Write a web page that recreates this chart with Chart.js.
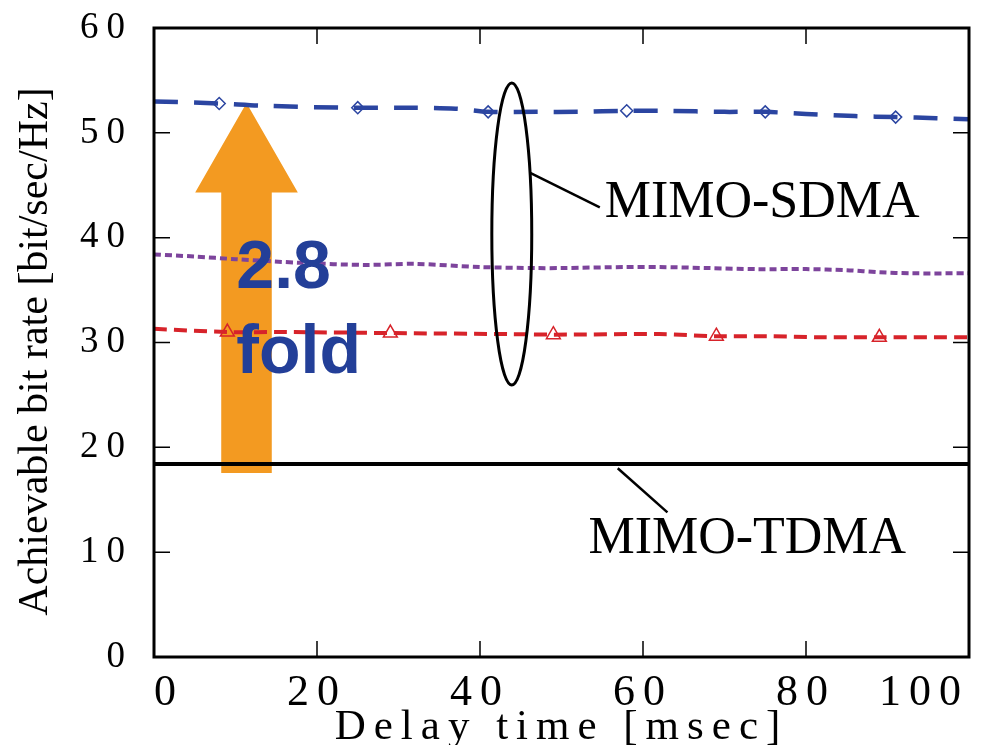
<!DOCTYPE html>
<html lang="en">
<head>
  <meta charset="UTF-8">
  <title>Achievable bit rate vs delay time</title>
  <script src="https://cdn.jsdelivr.net/npm/chart.js"></script>
  <style>
    body { margin: 0; background: #fff; }
  </style>
</head>
<body>
<canvas id="rateChart" width="983" height="745"></canvas>

<script>
  // values (x = delay time [msec], y = bit/sec/Hz)
  const blueX = [0, 8, 13, 23, 30, 37, 41, 47, 52, 58, 63, 70, 75, 80, 86, 91, 96, 100];
  const blueY = [53.0, 52.8, 52.6, 52.4, 52.4, 52.3, 52.0, 52.0, 52.0, 52.1, 52.1, 52.0, 52.0, 51.8, 51.6, 51.5, 51.4, 51.3];
  const blueMarkX = [8, 25, 41, 58, 75, 91];
  const blueMarkY = [52.8, 52.4, 52.0, 52.1, 52.0, 51.5];

  const purpleX = [0, 5, 10, 18, 26, 32, 40, 47, 50, 58, 62, 68, 74, 80, 85, 89, 93, 100];
  const purpleY = [38.4, 38.2, 37.95, 37.6, 37.4, 37.5, 37.2, 37.1, 37.1, 37.2, 37.2, 37.1, 37.0, 37.0, 36.9, 36.7, 36.6, 36.6];

  const redX = [0, 9, 16, 29, 44, 49, 62, 69, 75, 82, 89, 100];
  const redY = [31.3, 31.0, 31.0, 30.9, 30.8, 30.75, 30.8, 30.6, 30.6, 30.5, 30.5, 30.5];
  const redMarkX = [9, 29, 49, 69, 89];
  const redMarkY = [31.0, 30.9, 30.75, 30.6, 30.5];

  const blackX = [0, 25, 50, 75, 100];
  const blackY = [18.4, 18.4, 18.4, 18.4, 18.4];

  const xTicks = [0, 20, 40, 60, 80, 100];
  const yTicks = [0, 10, 20, 30, 40, 50, 60];

  const SERIF = '"Liberation Serif", "Times New Roman", serif';
  const BLUE = '#2b45a1';
  const PURPLE = '#7d449c';
  const RED = '#d7232a';
  const ORANGE = '#f39a21';
  const TEXT_BLUE = '#233f98';

  function pts(xs, ys) {
    return xs.map((x, i) => ({ x: x, y: ys[i] }));
  }

  // overlay drawing in data units, converted through the chart scales
  const arrow = { x: 11.35, shaftHalf: 3.1, headHalf: 6.3, bottom: 17.55, headBase: 44.3, tip: 52.85 };
  const ellipse = { cx: 43.9, cy: 40.35, rx: 2.45, ry: 14.4 };
  const sdmaLeader = [[46.1, 46.2], [54.7, 42.9]];
  const sdmaLabel = { x: 55.3, y: 42.0, text: 'MIMO-SDMA' };
  const tdmaLeader = [[56.9, 18.0], [63.0, 13.8]];
  const tdmaLabel = { x: 53.3, y: 9.9, text: 'MIMO-TDMA' };
  const foldLabel = [{ x: 10.1, y: 35.2, text: '2.8' }, { x: 10.1, y: 27.1, text: 'fold' }];

  const spacing = {
    id: 'spacing',
    beforeDraw(chart) {
      // the original tick labels are drawn letter-spaced
      chart.ctx.letterSpacing = '8px';
    }
  };

  const overlay = {
    id: 'overlay',
    beforeDatasetsDraw(chart) {
      const ctx = chart.ctx;
      const xs = chart.scales.x, ys = chart.scales.y;
      ctx.save();
      ctx.fillStyle = ORANGE;
      ctx.beginPath();
      ctx.moveTo(xs.getPixelForValue(arrow.x - arrow.shaftHalf), ys.getPixelForValue(arrow.bottom));
      ctx.lineTo(xs.getPixelForValue(arrow.x + arrow.shaftHalf), ys.getPixelForValue(arrow.bottom));
      ctx.lineTo(xs.getPixelForValue(arrow.x + arrow.shaftHalf), ys.getPixelForValue(arrow.headBase));
      ctx.lineTo(xs.getPixelForValue(arrow.x + arrow.headHalf), ys.getPixelForValue(arrow.headBase));
      ctx.lineTo(xs.getPixelForValue(arrow.x), ys.getPixelForValue(arrow.tip));
      ctx.lineTo(xs.getPixelForValue(arrow.x - arrow.headHalf), ys.getPixelForValue(arrow.headBase));
      ctx.lineTo(xs.getPixelForValue(arrow.x - arrow.shaftHalf), ys.getPixelForValue(arrow.headBase));
      ctx.closePath();
      ctx.fill();
      ctx.restore();
    },
    afterDraw(chart) {
      const ctx = chart.ctx;
      const xs = chart.scales.x, ys = chart.scales.y;
      const a = chart.chartArea;
      const px = v => xs.getPixelForValue(v);
      const py = v => ys.getPixelForValue(v);
      ctx.save();
      ctx.letterSpacing = '0px';

      // frame and inward tick marks
      ctx.strokeStyle = '#000';
      ctx.lineWidth = 1.5;
      ctx.beginPath();
      yTicks.slice(1, -1).forEach(v => {
        ctx.moveTo(a.left, py(v)); ctx.lineTo(a.left + 16, py(v));
        ctx.moveTo(a.right, py(v)); ctx.lineTo(a.right - 16, py(v));
      });
      xTicks.slice(1, -1).forEach(v => {
        ctx.moveTo(px(v), a.bottom); ctx.lineTo(px(v), a.bottom - 16);
        ctx.moveTo(px(v), a.top); ctx.lineTo(px(v), a.top + 16);
      });
      ctx.stroke();
      ctx.lineWidth = 3;
      ctx.strokeRect(a.left, a.top, a.right - a.left, a.bottom - a.top);

      // ellipse around the SDMA curves and the leader lines
      ctx.lineWidth = 3;
      ctx.beginPath();
      ctx.ellipse(px(ellipse.cx), py(ellipse.cy),
        px(ellipse.cx + ellipse.rx) - px(ellipse.cx),
        py(ellipse.cy) - py(ellipse.cy + ellipse.ry), 0, 0, Math.PI * 2);
      ctx.stroke();
      ctx.lineWidth = 2.5;
      [sdmaLeader, tdmaLeader].forEach(l => {
        ctx.beginPath();
        ctx.moveTo(px(l[0][0]), py(l[0][1]));
        ctx.lineTo(px(l[1][0]), py(l[1][1]));
        ctx.stroke();
      });

      ctx.fillStyle = '#000';
      ctx.font = '52px ' + SERIF;
      ctx.textAlign = 'left';
      ctx.textBaseline = 'alphabetic';
      [sdmaLabel, tdmaLabel].forEach(t => ctx.fillText(t.text, px(t.x), py(t.y)));

      ctx.fillStyle = TEXT_BLUE;
      ctx.font = 'bold 68px "Liberation Sans", Arial, sans-serif';
      foldLabel.forEach(t => ctx.fillText(t.text, px(t.x), py(t.y)));

      // y axis title (not letter-spaced in the original)
      ctx.fillStyle = '#000';
      ctx.font = '42px ' + SERIF;
      ctx.translate(47, (a.top + a.bottom) / 2 + 9);
      ctx.rotate(-Math.PI / 2);
      ctx.textAlign = 'center';
      ctx.fillText('Achievable bit rate [bit/sec/Hz]', 0, 0);
      ctx.restore();
    }
  };

  const ctx = document.getElementById('rateChart').getContext('2d');
  new Chart(ctx, {
    type: 'line',
    data: {
      datasets: [
        {
          label: 'SDMA (blue)', data: pts(blueX, blueY),
          borderColor: BLUE, borderWidth: 4.5, borderDash: [24, 16],
          pointRadius: 0, tension: 0.3, fill: false
        },
        {
          label: 'SDMA (blue) markers', data: pts(blueMarkX, blueMarkY), showLine: false,
          pointStyle: 'rectRot', pointRadius: 6, pointBorderWidth: 1.5,
          pointBorderColor: BLUE, pointBackgroundColor: 'rgba(255,255,255,0)'
        },
        {
          label: 'SDMA (purple)', data: pts(purpleX, purpleY),
          borderColor: PURPLE, borderWidth: 4, borderDash: [7, 4],
          pointRadius: 0, tension: 0.3, fill: false
        },
        {
          label: 'SDMA (red)', data: pts(redX, redY),
          borderColor: RED, borderWidth: 4, borderDash: [13, 7],
          pointRadius: 0, tension: 0.3, fill: false
        },
        {
          label: 'SDMA (red) markers', data: pts(redMarkX, redMarkY), showLine: false,
          pointStyle: 'triangle', pointRadius: 8, pointBorderWidth: 1.5,
          pointBorderColor: RED, pointBackgroundColor: 'rgba(255,255,255,0)'
        },
        {
          label: 'MIMO-TDMA', data: pts(blackX, blackY),
          borderColor: '#000', borderWidth: 4, pointRadius: 0, fill: false
        }
      ]
    },
    options: {
      responsive: false,
      animation: false,
      layout: { padding: { top: 28, right: 14, left: 0, bottom: 0 } },
      plugins: { legend: { display: false }, tooltip: { enabled: false } },
      scales: {
        x: {
          type: 'linear', min: 0, max: 100,
          afterBuildTicks: s => { s.ticks = xTicks.map(v => ({ value: v })); },
          afterFit: s => { s.height = 88; s.paddingLeft = 0; s.paddingRight = 0; },
          grid: { display: false, drawTicks: false },
          border: { display: false },
          ticks: {
            align: 'inner', padding: 10, color: '#000',
            font: { family: SERIF, size: 44 }
          },
          title: {
            display: true, text: 'Delay time [msec]', color: '#000',
            font: { family: SERIF, size: 43 }, padding: { top: 0, bottom: -9 }
          }
        },
        y: {
          min: 0, max: 60,
          afterBuildTicks: s => { s.ticks = yTicks.map(v => ({ value: v })); },
          afterFit: s => { s.width = 154; s.paddingTop = 0; s.paddingBottom = 0; },
          grid: { display: false, drawTicks: false },
          border: { display: false },
          ticks: {
            padding: 21, color: '#000',
            font: { family: SERIF, size: 37 }
          }
        }
      }
    },
    plugins: [spacing, overlay]
  });
</script>
</body>
</html>
